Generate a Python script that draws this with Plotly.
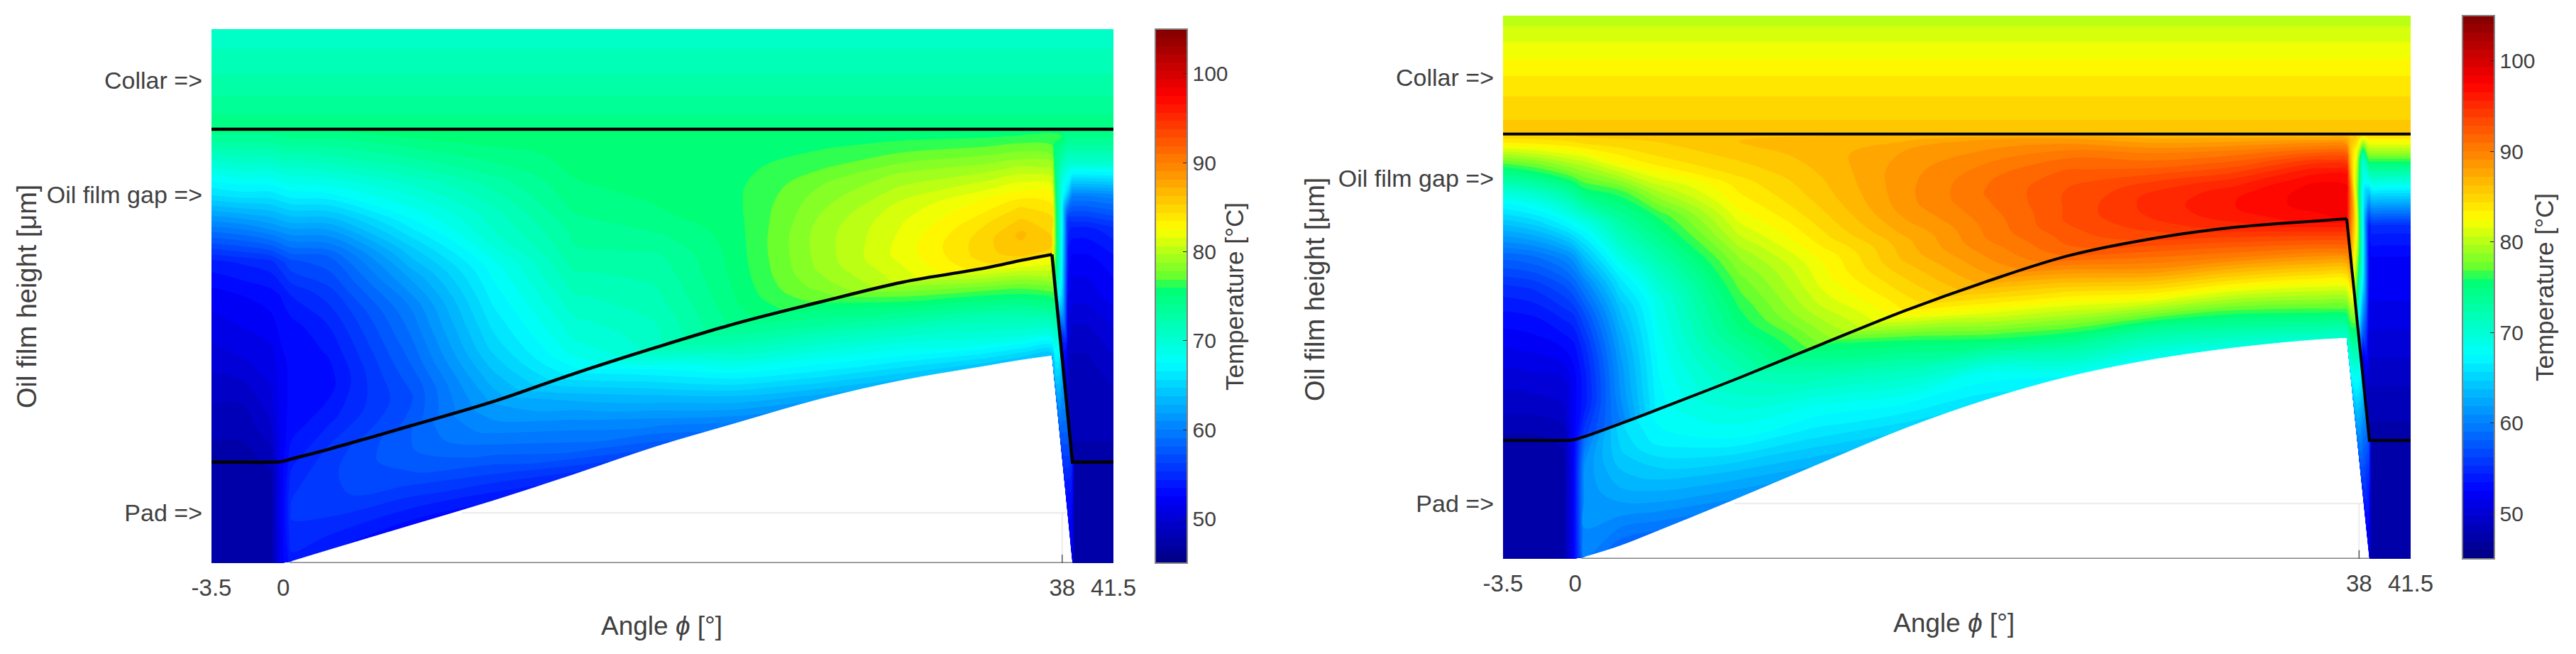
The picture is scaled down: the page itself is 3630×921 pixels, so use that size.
"""
Oil film temperature maps for a thrust bearing pad, two operating points side by side
"""

import numpy as np
import plotly.graph_objects as go

# axis labels
angle_tick_pos = [-3.5, 0, 38, 40.5]
angle_tick_text = ['-3.5', '0', '38', '41.5']
temp_ticks = [50, 60, 70, 80, 90, 100]
temp_min = 45
temp_max = 105

# fractions through the film (black line -> collar) and the pad (surface -> black line)
film_frac = [0, .1, .2, .3, .4, .5, .6, .7, .8, .9, .97, 1]
pad_frac = [0, .25, .5, .75, 1]

# column where the pad starts, and where it ends and the black line drops sharply
start_col = 4
corner_col = 15

# ---------- left panel ----------
left_height_ticks = [90.4, 69, 9.4]
left_x = [-3.5, -2, -0.6, -0.1, 0.4, 2.2, 6.2, 10.2, 14.2, 18.2, 22.2, 26.2, 30.2, 34.3, 36, 37.5, 38, 38.3, 38.5, 38.6, 39.2, 40.5]
left_line = [18.9, 18.9, 18.9, 19, 19.5, 21.3, 25.7, 30.2, 35.5, 40.4, 45, 48.9, 52.6, 55.3, 56.7, 57.8, 38.25, 26.5, 18.9, 18.9, 18.9, 18.9]
left_pad = [0, 0, 0, 0, 0.3, 2.4, 7, 11.6, 16.6, 21.8, 26.3, 30.7, 34.2, 36.9, 38, 38.8, 19.45, 7.8, 0, 0, 0, 0]
left_collar_y = 81.25
left_collar_rows = [81.25, 85, 90, 95, 100]
left_collar_temp = [74.8, 73.8, 72.5, 71.5, 70.5]
left_film_temp = [  # one list per column of left_x
    [47.5, 48, 49, 50, 51, 52, 54, 59.5, 65.5, 70, 73.5, 74.5],
    [47.5, 48, 49, 50.5, 51.5, 52.5, 54.5, 60, 66, 70.5, 73.5, 74.5],
    [48, 49.5, 50.5, 51, 52, 53, 55, 61, 66, 70.5, 73.5, 74.5],
    [52, 52, 52, 52.2, 52.8, 53.5, 56, 61.5, 66.5, 71, 73.8, 74.5],
    [54, 53, 52.8, 52.8, 53, 54.5, 57, 62, 67, 71, 74, 74.5],
    [55.5, 54, 53, 53.5, 54.5, 56, 58, 62.5, 67.5, 71.5, 74, 75],
    [57.5, 57, 58, 59, 60, 62, 64.5, 67.5, 70, 73, 75, 75.5],
    [62, 63.5, 65, 66, 67, 68, 70, 71, 72.5, 74.5, 75.5, 75.5],
    [67, 69, 70, 71, 72, 73, 73.5, 74.5, 75, 75.3, 75.5, 75.5],
    [71, 71.2, 71.8, 72.3, 72.8, 73.8, 74.8, 75.2, 75.5, 75.5, 75.5, 75.5],
    [74.5, 75, 75.3, 75.5, 75.6, 75.7, 75.8, 75.8, 75.7, 75.6, 75.5, 75.5],
    [77, 78.3, 79, 79.2, 79.2, 78.8, 78.3, 77.6, 76.5, 75.8, 75.5, 75.5],
    [81, 81.5, 82, 81.8, 81.5, 81, 80, 79, 77.5, 76.2, 75.5, 75.5],
    [84, 85, 85, 84.5, 83.5, 82.5, 81, 79.5, 78, 76.5, 75.5, 75.5],
    [85, 86, 86.5, 85.5, 84.5, 83, 81.5, 80, 78.3, 76.8, 75.7, 75.3],
    [85, 85.5, 85, 84.5, 83.5, 82.5, 81, 79.5, 77.8, 76.5, 76, 75],
    [50, 55, 62, 65.5, 66.5, 67, 67.5, 68, 70, 73.5, 76, 74.5],
    [48.5, 49, 49, 50, 51, 52.5, 53.5, 56, 66, 71, 74, 74.5],
    [47.5, 48, 48, 48.5, 49.5, 51, 52, 54, 60, 70.5, 74, 74.5],
    [47.5, 48, 48, 48.5, 49.5, 51, 52, 54, 60, 70.5, 74, 74.5],
    [47.5, 48, 48, 48.5, 49.5, 51, 52, 54, 60, 70.5, 74, 74.5],
    [47.5, 48, 48.5, 49.5, 50.5, 52, 53, 55, 60.5, 70.5, 74, 74.5],
]
left_pad_temp = [  # one list per column of left_x
    [47, 47, 47, 47, 47.5],
    [47, 47, 47, 47, 47.5],
    [47.5, 47.5, 47.5, 47.5, 48],
    [52, 52, 52, 52, 52],
    [54, 55, 55.5, 55, 54],
    [53.5, 55, 56, 56, 55.5],
    [53, 55, 57, 58, 58],
    [53.5, 56, 58.5, 60.5, 62],
    [55, 58.5, 60.5, 63, 66.5],
    [57.5, 60.5, 63.5, 67, 72],
    [60, 63.5, 67.5, 71.5, 74.5],
    [62, 66, 69.5, 73, 76],
    [63.5, 67.5, 71, 75, 79.5],
    [64, 69, 72, 76.5, 82],
    [64, 69.5, 73, 77.5, 83],
    [64, 70, 74.5, 79, 83],
    [55.5, 58, 60, 62, 64],
    [52.5, 53, 55, 57, 59],
    [51, 52, 52, 53, 54],
    [47, 47, 47, 47, 47.5],
    [47, 47, 47, 47, 47.5],
    [47, 47, 47, 47, 47.5],
]

# ---------- right panel ----------
right_height_ticks = [88.6, 70, 10.2]
right_x = [-3.5, -2, -0.55, -0.1, 0.44, 2.2, 4, 8, 12, 16, 19.9, 23.9, 27.9, 31.9, 35.9, 37.4, 37.9, 38.2, 38.5, 38.6, 39.2, 40.5]
right_line = [21.8, 21.8, 21.8, 21.9, 22.5, 24.9, 27.5, 33.4, 39.6, 45.7, 51, 55.8, 58.9, 61, 62.2, 62.6, 44.1, 33, 21.8, 21.8, 21.8, 21.8]
right_pad = [0, 0, 0, 0, 0.3, 2.4, 5.1, 11.3, 17.7, 24, 29.2, 33.5, 36.6, 38.8, 40.3, 40.6, 22.1, 11, 0, 0, 0, 0]
right_collar_y = 78.2
right_collar_rows = [78.2, 82, 87, 92, 96, 100]
right_collar_temp = [86, 85, 84, 82.5, 81.3, 80]
right_film_temp = [
    [47.5, 49, 50, 51.5, 53, 55, 58.5, 63.5, 69, 76.5, 83.2, 85.5],
    [47.5, 49, 50.3, 51.8, 53.3, 55.5, 59, 64.5, 70, 77.5, 83.5, 85.5],
    [48, 49.5, 50.5, 52.5, 54.5, 57, 60.5, 66.5, 72, 79, 84, 85.5],
    [52, 52, 52, 53, 55, 58, 61.5, 67.5, 73, 79.5, 84.2, 85.5],
    [56, 54, 54, 55, 57, 60, 64, 68.5, 74.8, 80, 84.5, 85.7],
    [60, 61, 61.5, 62.5, 64, 66.5, 70, 73, 76.5, 82.5, 85, 85.7],
    [67, 67.3, 67.7, 68.3, 69, 71, 73.5, 76, 80, 84, 85.3, 85.8],
    [71.5, 73, 75, 76.2, 77.5, 79, 81, 82.7, 84, 85.5, 86.3, 86],
    [78, 79.5, 81, 82, 82.6, 84, 85, 85.8, 86.3, 86.7, 86.9, 86],
    [83.5, 84.5, 85.5, 86.5, 87, 88, 88.7, 88.8, 88.7, 88.2, 87, 86],
    [87.5, 88.5, 89.3, 90, 90.3, 90.7, 91, 90.8, 90, 89, 88, 86],
    [91, 92, 92.5, 93, 93, 93, 92.7, 92, 91, 89.5, 88, 86],
    [93, 94, 94.7, 95, 95, 94.3, 93, 91.5, 90.3, 88.5, 87, 86],
    [95, 96, 96.5, 96.5, 96, 95, 93.5, 92, 90.5, 88.5, 87, 86],
    [97, 97.5, 98, 98, 97.8, 97, 95.8, 94, 91.5, 89, 87, 86],
    [97.5, 98, 98, 98, 97.5, 97, 95.5, 93.5, 91, 88.5, 86.8, 85.5],
    [72, 75, 77, 79, 81, 82, 81, 79, 80, 82, 85, 85.5],
    [50, 52, 58, 62, 66, 67, 67, 67, 68, 70.5, 80, 85],
    [47.5, 48, 49, 50, 51, 52, 52, 53.5, 63, 75, 82, 85],
    [47.5, 48, 49, 50, 51, 52, 52.5, 55, 65, 75, 82, 85],
    [47.5, 48, 49, 50, 51, 52, 52.5, 55, 65, 75, 82, 85],
    [47.5, 48, 49, 50, 51, 52, 52.5, 55, 65, 75, 82, 85],
]
right_pad_temp = [
    [47, 47, 47, 47, 47.5],
    [47, 47, 47, 47, 47.5],
    [47.5, 47.5, 47.5, 47.5, 48],
    [52, 52, 52, 52, 52],
    [60, 61, 61, 61, 59],
    [58.5, 61, 63, 64.5, 65.5],
    [59, 62, 64.5, 67, 68],
    [61, 64, 67.5, 69.5, 71.5],
    [63, 66, 68.5, 72, 76],
    [65, 68, 71.5, 76, 83.5],
    [66, 68.5, 75.5, 82, 87.5],
    [67.5, 73, 79.5, 85.5, 92],
    [68, 73.5, 82, 89, 94],
    [69, 75, 82.5, 90, 95.5],
    [70, 76.5, 83, 90.5, 97],
    [70.5, 77, 83.5, 91, 97.5],
    [60, 64, 68, 72, 76],
    [54, 57, 59, 62, 65],
    [51, 52, 53, 55, 56],
    [47, 47, 47, 47, 47.5],
    [47, 47, 47, 47, 47.5],
    [47, 47, 47, 47, 47.5],
]

# leftovers of the axes that show through on the white pad area
left_grid_x = [8.7, 38.2]
right_grid_x = [7.7, 38.2]
base_line_x = [0.3, 38.5]

JET = [
    [0, 'rgb(0,0,128)'],
    [0.125, 'rgb(0,0,255)'],
    [0.375, 'rgb(0,255,255)'],
    [0.5167, 'rgb(0,255,110)'],
    [0.53, 'rgb(90,255,50)'],
    [0.625, 'rgb(255,255,0)'],
    [0.875, 'rgb(255,0,0)'],
    [1, 'rgb(128,0,0)'],
]
LEVELS = dict(start=temp_min, end=temp_max, size=60 / 64, coloring='fill', showlines=False)
TEXT = '#404040'
FONT = 'Liberation Sans'

# the page body keeps its default 8px margin, so the figure is made smaller to fit the window
BODY = 8
W, H = 3630 - 2 * BODY, 921 - 2 * BODY


def fx(px):
    return (px - BODY) / W


def fy(py):
    return 1 - (py - BODY) / H


fig = go.Figure()


def add_carpet_field(name, x, lower, upper, frac, temp, xa, ya):
    """Warped field between two curves, drawn with carpet + contourcarpet."""
    x = np.array(x, dtype=float)
    lower = np.array(lower, dtype=float)
    upper = np.array(upper, dtype=float)
    frac = np.array(frac, dtype=float)
    xx = np.tile(x, (len(frac), 1))
    yy = np.array([lower + f * (upper - lower) for f in frac])
    hidden = dict(showgrid=False, startline=False, endline=False, showticklabels='none',
                  minorgridcount=0, smoothing=0)
    fig.add_trace(go.Carpet(carpet=name, a=list(range(len(x))), b=list(range(len(frac))),
                            x=xx.tolist(), y=yy.tolist(), aaxis=hidden, baxis=hidden,
                            xaxis=xa, yaxis=ya))
    fig.add_trace(go.Contourcarpet(carpet=name, a=list(range(len(x))), b=list(range(len(frac))),
                                   z=np.array(temp).T.tolist(), autocontour=False, contours=LEVELS,
                                   colorscale=JET, zmin=temp_min, zmax=temp_max, showscale=False,
                                   line=dict(width=0)))


def add_panel(suffix, x, line, pad, collar_y, collar_rows, collar_temp, film_temp, pad_temp,
              grid_x, grid_y, cbar_left, cbar_y, cbar_len, line_w):
    xa, ya = 'x' + suffix, 'y' + suffix
    top = [collar_y] * len(x)

    add_carpet_field('film' + suffix, x, line, top, film_frac, film_temp, xa, ya)
    add_carpet_field('pad' + suffix, x, pad, line, pad_frac, pad_temp, xa, ya)

    # collar is plain horizontal bands; this trace also owns the colour bar
    fig.add_trace(go.Contour(x=[x[0], x[-1]], y=collar_rows, z=[[t, t] for t in collar_temp],
                             autocontour=False, contours=LEVELS, colorscale=JET,
                             zmin=temp_min, zmax=temp_max, line=dict(width=0),
                             xaxis=xa, yaxis=ya,
                             colorbar=dict(x=cbar_left, xanchor='left', y=cbar_y, yanchor='bottom',
                                           len=cbar_len, lenmode='fraction', thickness=45,
                                           thicknessmode='pixels', tickvals=temp_ticks,
                                           ticks='inside', ticklen=7, tickcolor='#222222',
                                           outlinecolor='#808080', outlinewidth=2, xpad=0, ypad=0,
                                           tickfont=dict(size=30, color=TEXT, family=FONT))))

    # white face of the pad, rounds off the straight cell edges of the field above it
    fig.add_trace(go.Scatter(x=x[start_col:corner_col + 1], y=pad[start_col:corner_col + 1], mode='lines',
                             xaxis=xa, yaxis=ya, fill='toself', fillcolor='white',
                             line=dict(color='white', width=1, shape='spline', smoothing=1),
                             showlegend=False))

    # axis leftovers on the white area
    fig.add_trace(go.Scatter(x=grid_x, y=[grid_y, grid_y], mode='lines', xaxis=xa, yaxis=ya,
                             line=dict(color='#eeeeee', width=2.5), showlegend=False))
    fig.add_trace(go.Scatter(x=[38, 38], y=[0, grid_y], mode='lines', xaxis=xa, yaxis=ya,
                             line=dict(color='#e8e8e8', width=1.5), showlegend=False))
    fig.add_trace(go.Scatter(x=base_line_x, y=[0, 0], mode='lines', xaxis=xa, yaxis=ya,
                             line=dict(color='#808080', width=3), showlegend=False))
    fig.add_trace(go.Scatter(x=[38, 38], y=[0, 1.6], mode='lines', xaxis=xa, yaxis=ya,
                             line=dict(color='#555555', width=1.5), showlegend=False))

    # black boundaries
    fig.add_trace(go.Scatter(x=x[:corner_col + 1], y=line[:corner_col + 1], mode='lines', xaxis=xa, yaxis=ya,
                             line=dict(color='black', width=line_w, shape='spline', smoothing=1),
                             showlegend=False))
    fig.add_trace(go.Scatter(x=x[corner_col:], y=line[corner_col:], mode='lines', xaxis=xa, yaxis=ya,
                             line=dict(color='black', width=line_w), showlegend=False))
    fig.add_trace(go.Scatter(x=[x[0], x[-1]], y=[collar_y, collar_y], mode='lines', xaxis=xa, yaxis=ya,
                             line=dict(color='black', width=line_w), showlegend=False))


add_panel('', left_x, left_line, left_pad, left_collar_y, left_collar_rows, left_collar_temp,
          left_film_temp, left_pad_temp, left_grid_x, left_height_ticks[2],
          fx(1628), fy(793), (793 - 41) / H, 4.5)
add_panel('2', right_x, right_line, right_pad, right_collar_y, right_collar_rows, right_collar_temp,
          right_film_temp, right_pad_temp, right_grid_x, right_height_ticks[2],
          fx(3470), fy(787), (787 - 22) / H, 4)


def x_axis(left, right, anchor):
    return dict(domain=[fx(left), fx(right)], range=[-3.5, 40.5], anchor=anchor, tickmode='array',
                tickvals=angle_tick_pos, ticktext=angle_tick_text, showgrid=False, zeroline=False,
                showline=False, ticks='', ticklabelstandoff=12, automargin=False,
                tickfont=dict(size=33, color=TEXT, family=FONT))


def y_axis(bottom, top, anchor, ticks):
    return dict(domain=[fy(bottom), fy(top)], range=[0, 100], anchor=anchor, tickmode='array',
                tickvals=ticks, ticktext=['Collar =>', 'Oil film gap =>', 'Pad =>'], showgrid=False,
                zeroline=False, showline=False, ticks='', ticklabelstandoff=12, automargin=False,
                tickfont=dict(size=34, color=TEXT, family=FONT))


labels = [
    ('Angle <i>ϕ</i> [°]', 932, 881, 0, 37),
    ('Angle <i>ϕ</i> [°]', 2753, 877, 0, 37),
    ('Oil film height [μm]', 38, 418, -90, 38),
    ('Oil film height [μm]', 1853, 407, -90, 38),
    ('Temperature [°C]', 1740, 418, -90, 35),
    ('Temperature [°C]', 3586, 405, -90, 35),
]
annotations = [dict(text=t, x=fx(px), y=fy(py), xref='paper', yref='paper', showarrow=False,
                    xanchor='center', yanchor='middle', textangle=angle,
                    font=dict(size=size, color=TEXT, family=FONT))
               for t, px, py, angle, size in labels]

fig.update_layout(
    width=W, height=H, autosize=False, margin=dict(l=0, r=0, t=0, b=0, autoexpand=False),
    paper_bgcolor='white', plot_bgcolor='white', showlegend=False, annotations=annotations,
    xaxis=x_axis(298, 1569, 'y'),
    yaxis=y_axis(793, 41, 'x', left_height_ticks),
    xaxis2=x_axis(2118, 3397, 'y2'),
    yaxis2=y_axis(787, 22, 'x2', right_height_ticks),
)

fig.write_html("out.html")
